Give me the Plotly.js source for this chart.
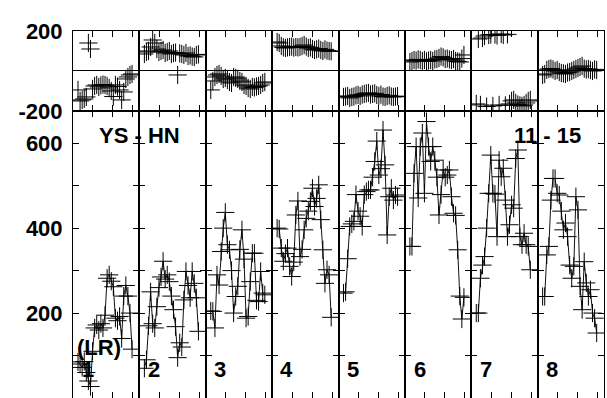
<!DOCTYPE html>
<html>
<head>
<meta charset="utf-8">
<script src="https://cdn.plot.ly/plotly-3.0.1.min.js"></script>
<style>
html,body{margin:0;padding:0;overflow:hidden;background:#fff;}
#chart{width:607px;height:410px;}
</style>
</head>
<body>
<div id="chart"></div>
<script>
// Bottom panel (LR) values per segment
const lr1 = [85, 80, 72, 86, 60, 40, 27, 110, 165, 172, 160, 175, 165, 195, 282, 290, 275, 262, 188, 182, 192, 140, 240, 265, 240, 200, 115];
const lr2 = [70, 90, 170, 250, 175, 165, 215, 260, 285, 322, 280, 290, 274, 240, 208, 168, 95, 130, 120, 231, 298, 265, 236, 298, 270, 236, 157];
const lr3 = [205, 204, 165, 290, 266, 345, 400, 437, 361, 349, 300, 200, 239, 263, 350, 396, 327, 188, 192, 274, 341, 341, 230, 227, 298, 247, 243];
const lr4 = [400, 398, 353, 322, 340, 353, 310, 286, 320, 431, 464, 333, 350, 396, 423, 440, 463, 494, 451, 470, 502, 420, 349, 270, 302, 290, 190];
const lr5 = [247, 250, 328, 404, 410, 416, 479, 440, 428, 404, 479, 486, 490, 490, 520, 557, 605, 525, 540, 631, 549, 384, 474, 494, 466, 478, 474];
const lr6 = [357, 357, 529, 592, 471, 592, 624, 482, 651, 592, 557, 592, 560, 520, 431, 479, 537, 520, 525, 537, 474, 435, 430, 349, 240, 186, 237];
const lr7 = [200, 200, 282, 313, 333, 400, 482, 572, 482, 480, 380, 560, 521, 541, 466, 380, 408, 455, 447, 564, 584, 380, 361, 388, 361, 357, 302];
const lr8 = [239, 239, 337, 357, 466, 517, 517, 482, 478, 440, 396, 412, 380, 313, 282, 310, 474, 443, 263, 208, 321, 271, 239, 255, 200, 188, 153];

// Top panel values per segment
const dt1 = [-95, -150, -145, -140, -130, 140, 110, -90, -75, -70, -80, -72, -68, -70, -75, -85, -100, -128, -70, -78, -95, -145, -105, -40, -30, -20, -15];
const dt2 = [85, 95, 100, 120, 155, 140, 110, 95, 100, 105, 90, 95, 100, 85, 90, 92, -20, 88, 85, 80, 90, 75, 78, 72, 70, 80, 83];
const dt3 = [-95, -50, -30, -20, -15, -25, -40, -35, -45, -55, -60, -30, -35, -40, -50, -55, -70, -75, -85, -90, -80, -82, -78, -75, -70, -60, -55];
const dt4 = [145, 140, 125, 118, 115, 118, 120, 122, 117, 120, 118, 120, 125, 130, 122, 115, 118, 110, 105, 108, 112, 105, 100, 108, 102, 100, 98];
const dt5 = [-130, -128, -125, -135, -130, -128, -122, -120, -125, -118, -115, -112, -110, -118, -115, -112, -120, -125, -118, -128, -130, -125, -122, -128, -130, -128, -126];
const dt6 = [45, 50, 55, 52, 58, 55, 50, 55, 48, 52, 55, 50, 58, 60, 65, 72, 68, 60, 62, 58, 55, 60, 50, 48, 45, 62, 80];
const dt7 = [-165, 160, -170, 165, 175, -178, 180, 182, -175, 183, 178, -170, 185, 180, -172, 183, -165, -150, -145, -160, -168, -172, -175, -170, -160, -150, -145];
const dt8 = [-20, -15, 5, 10, 12, 8, 0, 5, -5, -10, -12, -15, -8, -5, 0, 5, 10, 15, 20, 25, 12, 8, 10, 5, 0, 8, 5];

const segLabels = ['1', '2', '3', '4', '5', '6', '7', '8'];
const bottomTickVals = [0, 100, 200, 300, 400, 500, 600];
const bottomTickText = ['0', '', '200', '', '400', '', '600'];
const topTickVals = [-200, 200];
const topTickText = ['-200', '200'];

const bottomSeries = [lr1, lr2, lr3, lr4, lr5, lr6, lr7, lr8];
const topSeries = [dt1, dt2, dt3, dt4, dt5, dt6, dt7, dt8];

const NSEG = 8;
const XMAX = 33.2;
const splitFrac = 287.3 / 367.3;
const font = {family: 'Liberation Sans, Arial, sans-serif', size: 22, color: '#000', weight: 'bold'};

function xs(n) { const a = []; for (let i = 0; i < n; i++) a.push(2.5 + i * 1.04); return a; }

const traces = [];
const layout = {
  width: 607, height: 410,
  margin: {l: 72.7, r: 3, t: 31, b: 11.7},
  paper_bgcolor: '#fff', plot_bgcolor: '#fff',
  showlegend: false,
  font: font,
  annotations: []
};

const marker = {symbol: 'cross-thin', size: 13, color: '#000', line: {width: 1, color: '#000'}};

for (let k = 0; k < NSEG; k++) {
  const dom = [k / NSEG, (k + 1) / NSEG];
  const bi = 2 * k + 1, ti = 2 * k + 2;
  const bx = 'x' + bi, by = 'y' + bi, tx = 'x' + ti, ty = 'y' + ti;
  const axBase = {
    showline: true, linecolor: '#000', linewidth: 1, mirror: 'ticks',
    ticks: 'inside', ticklen: 6, tickwidth: 1, tickcolor: '#000',
    showgrid: false, zeroline: false, fixedrange: true
  };
  layout['xaxis' + bi] = Object.assign({}, axBase, {
    domain: dom, anchor: by, range: [0, XMAX], tickmode: 'array',
    tickvals: [0, 10, 20, 30], showticklabels: false
  });
  layout['yaxis' + bi] = Object.assign({}, axBase, {
    domain: [0, splitFrac], anchor: bx, range: [0, 676], tickmode: 'array',
    tickvals: bottomTickVals, ticktext: bottomTickText,
    showticklabels: k === 0, tickfont: font, ticklabelstandoff: 5
  });
  layout['xaxis' + ti] = Object.assign({}, axBase, {
    domain: dom, anchor: ty, range: [0, XMAX], tickmode: 'array',
    tickvals: [0, 10, 20, 30], showticklabels: false
  });
  layout['yaxis' + ti] = Object.assign({}, axBase, {
    domain: [splitFrac, 1], anchor: tx, range: [-200, 200], tickmode: 'array',
    tickvals: topTickVals, ticktext: topTickText,
    showticklabels: k === 0, tickfont: font, ticklabelstandoff: 5,
    zeroline: true, zerolinecolor: '#000', zerolinewidth: 1
  });

  const b = bottomSeries[k];
  traces.push({
    x: xs(b.length), y: b, xaxis: bx, yaxis: by, type: 'scatter',
    mode: 'lines+markers', line: {color: '#111', width: 1}, marker: marker,
    hoverinfo: 'skip'
  });
  const t = topSeries[k];
  traces.push({
    x: xs(t.length), y: t, xaxis: tx, yaxis: ty, type: 'scatter',
    mode: 'markers', marker: marker, hoverinfo: 'skip', cliponaxis: true
  });

  layout.annotations.push({
    text: segLabels[k], xref: bx, yref: by, x: 7.35, y: 66,
    showarrow: false, font: font, xanchor: 'center', yanchor: 'middle'
  });
}

layout.annotations.push({
  text: '(LR)', xref: 'x1', yref: 'y1', x: 12.8, y: 120,
  showarrow: false, font: font, xanchor: 'center', yanchor: 'middle'
});
layout.annotations.push({
  text: 'YS - HN', xref: 'paper', yref: 'y1', x: 66.8 / 531.3, y: 618,
  showarrow: false, font: font, xanchor: 'center', yanchor: 'middle'
});
layout.annotations.push({
  text: '11 - 15', xref: 'paper', yref: 'y1', x: (547.5 - 72.7) / 531.3, y: 618,
  showarrow: false, font: font, xanchor: 'center', yanchor: 'middle'
});

Plotly.newPlot('chart', traces, layout, {staticPlot: true, displayModeBar: false});
</script>
</body>
</html>
